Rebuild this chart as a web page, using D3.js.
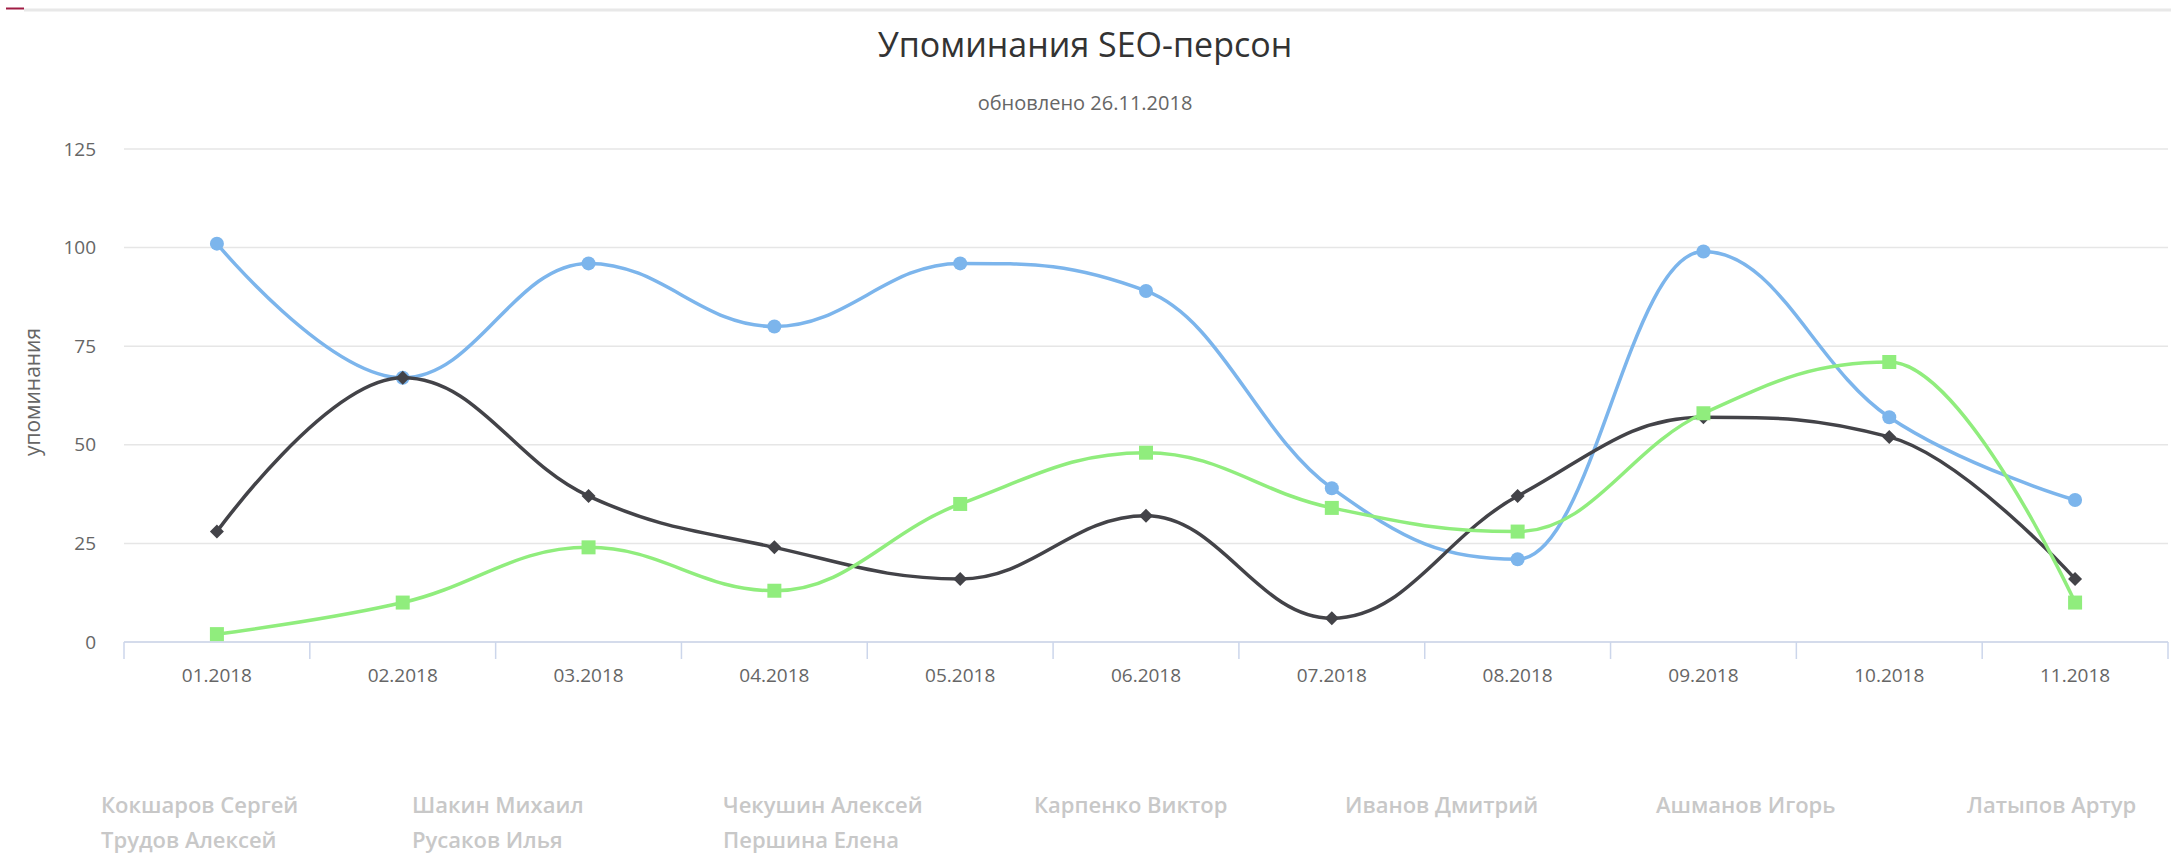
<!DOCTYPE html>
<html>
<head>
<meta charset="utf-8">
<script src="https://cdn.jsdelivr.net/npm/d3@7"></script>
<style>
  body { margin: 0; background: #fff; }
  text { font-family: "Open Sans", "Noto Sans", sans-serif; }
</style>
</head>
<body>
<div id="chart"></div>
<script>
var months = ["01.2018", "02.2018", "03.2018", "04.2018", "05.2018", "06.2018",
  "07.2018", "08.2018", "09.2018", "10.2018", "11.2018"];
var blueValues = [101, 67, 96, 80, 96, 89, 39, 21, 99, 57, 36];
var darkValues = [28, 67, 37, 24, 16, 32, 6, 37, 57, 52, 16];
var greenValues = [2, 10, 24, 13, 35, 48, 34, 28, 58, 71, 10];
var yTicks = [0, 25, 50, 75, 100, 125];
var legendNames = ["Кокшаров Сергей", "Шакин Михаил", "Чекушин Алексей", "Карпенко Виктор",
  "Иванов Дмитрий", "Ашманов Игорь", "Латыпов Артур", "Трудов Алексей", "Русаков Илья", "Першина Елена"];

var series = [
  { values: blueValues, color: "#7cb5ec", symbol: "circle" },
  { values: darkValues, color: "#434348", symbol: "diamond" },
  { values: greenValues, color: "#90ed7d", symbol: "square" }
];

// spline like the one highcharts draws (smoothing 1.5, flat at extremes)
function HighSpline(context) { this._context = context; }
HighSpline.prototype = {
  areaStart: function() {},
  areaEnd: function() {},
  lineStart: function() { this._x = []; this._y = []; },
  point: function(x, y) { this._x.push(+x); this._y.push(+y); },
  lineEnd: function() {
    var xs = this._x, ys = this._y, n = xs.length, ctx = this._context;
    var sm = 1.5, den = sm + 1;
    var lcx = [], lcy = [], rcx = [], rcy = [];
    for (var i = 0; i < n; i++) {
      lcx[i] = rcx[i] = xs[i];
      lcy[i] = rcy[i] = ys[i];
      if (i > 0 && i < n - 1) {
        var px = xs[i], py = ys[i], lx = xs[i - 1], ly = ys[i - 1], nx = xs[i + 1], ny = ys[i + 1];
        var a = (sm * px + lx) / den, b = (sm * py + ly) / den;
        var c = (sm * px + nx) / den, d = (sm * py + ny) / den;
        var corr = 0;
        if (c !== a) corr = ((d - b) * (c - px)) / (c - a) + py - d;
        b += corr; d += corr;
        if (b > ly && b > py) { b = Math.max(ly, py); d = 2 * py - b; }
        else if (b < ly && b < py) { b = Math.min(ly, py); d = 2 * py - b; }
        if (d > ny && d > py) { d = Math.max(ny, py); b = 2 * py - d; }
        else if (d < ny && d < py) { d = Math.min(ny, py); b = 2 * py - d; }
        lcx[i] = a; lcy[i] = b; rcx[i] = c; rcy[i] = d;
      }
    }
    ctx.moveTo(xs[0], ys[0]);
    for (var j = 1; j < n; j++) {
      ctx.bezierCurveTo(rcx[j - 1], rcy[j - 1], lcx[j], lcy[j], xs[j], ys[j]);
    }
  }
};
function curveHighSpline(context) { return new HighSpline(context); }

var w = 2171, h = 856;
var plotLeft = 124, plotRight = 2168, plotTop = 149, plotBottom = 642;

var svg = d3.select("#chart").append("svg")
  .attr("width", w)
  .attr("height", h);

// page strip on top
svg.append("line")
  .attr("x1", 24).attr("x2", w).attr("y1", 10).attr("y2", 10)
  .style("stroke", "#e8e8e8").style("stroke-width", 3);
svg.append("line")
  .attr("x1", 6).attr("x2", 24).attr("y1", 8.5).attr("y2", 8.5)
  .style("stroke", "#a01c44").style("stroke-width", 2);

svg.append("text")
  .attr("x", 1085).attr("y", 57)
  .attr("text-anchor", "middle")
  .style("font-size", "34px")
  .style("fill", "#333333")
  .text("Упоминания SEO-персон");

svg.append("text")
  .attr("x", 1085).attr("y", 110)
  .attr("text-anchor", "middle")
  .style("font-size", "20px")
  .style("fill", "#666666")
  .text("обновлено 26.11.2018");

var xscale = d3.scaleBand()
  .domain(months)
  .range([plotLeft, plotRight]);

var yscale = d3.scaleLinear()
  .domain([0, 125])
  .range([plotBottom, plotTop]);

// grid
svg.append("g")
  .selectAll("line")
  .data(yTicks)
  .enter().append("line")
  .attr("x1", plotLeft).attr("x2", plotRight)
  .attr("y1", function(d) { return yscale(d); })
  .attr("y2", function(d) { return yscale(d); })
  .style("stroke", "#e6e6e6")
  .style("stroke-width", 1.5);

var yaxis = d3.axisLeft(yscale)
  .tickValues(yTicks)
  .tickSize(0)
  .tickPadding(0);

var yg = svg.append("g")
  .attr("transform", "translate(96,0)")
  .call(yaxis);
yg.select(".domain").remove();
yg.selectAll("text")
  .style("font-size", "19px")
  .style("fill", "#666666")
  .style("font-family", "'Open Sans', sans-serif");

svg.append("text")
  .attr("transform", "translate(40,392) rotate(-90)")
  .attr("text-anchor", "middle")
  .style("font-size", "21px")
  .style("fill", "#666666")
  .text("упоминания");

// x axis with ticks between categories
var xg = svg.append("g")
  .attr("transform", "translate(0," + plotBottom + ")");
xg.append("line")
  .attr("x1", plotLeft).attr("x2", plotRight)
  .style("stroke", "#ccd6eb").style("stroke-width", 1.5);
xg.selectAll(".tick")
  .data(months.concat(["end"]))
  .enter().append("line")
  .attr("class", "tick")
  .attr("x1", function(d) { return d === "end" ? plotRight : xscale(d); })
  .attr("x2", function(d) { return d === "end" ? plotRight : xscale(d); })
  .attr("y1", 0).attr("y2", 17)
  .style("stroke", "#ccd6eb").style("stroke-width", 1.5);
xg.selectAll(".lab")
  .data(months)
  .enter().append("text")
  .attr("class", "lab")
  .attr("x", function(d) { return xscale(d) + xscale.bandwidth() / 2; })
  .attr("y", 40)
  .attr("text-anchor", "middle")
  .style("font-size", "19px")
  .style("fill", "#666666")
  .text(function(d) { return d; });

var line = d3.line()
  .x(function(d, i) { return xscale(months[i]) + xscale.bandwidth() / 2; })
  .y(function(d) { return yscale(d); })
  .curve(curveHighSpline);

var r = 7;
var shapes = {
  circle: d3.symbol().type(d3.symbolCircle).size(Math.PI * r * r),
  square: d3.symbol().type(d3.symbolSquare).size(4 * r * r),
  diamond: d3.symbol().type(d3.symbolSquare).size(2 * r * r)
};

series.forEach(function(s) {
  svg.append("path")
    .datum(s.values)
    .attr("d", line)
    .style("fill", "none")
    .style("stroke", s.color)
    .style("stroke-width", 3.5)
    .style("stroke-linejoin", "round");

  svg.append("g")
    .selectAll("path")
    .data(s.values)
    .enter().append("path")
    .attr("d", shapes[s.symbol])
    .attr("transform", function(d, i) {
      var t = "translate(" + (xscale(months[i]) + xscale.bandwidth() / 2) + "," + yscale(d) + ")";
      return s.symbol === "diamond" ? t + " rotate(45)" : t;
    })
    .style("fill", s.color);
});

// legend (all items greyed out)
svg.append("g")
  .selectAll("text")
  .data(legendNames)
  .enter().append("text")
  .attr("x", function(d, i) { return 101 + (i % 7) * 311; })
  .attr("y", function(d, i) { return i < 7 ? 813 : 848; })
  .style("font-size", "22px")
  .style("font-weight", "600")
  .style("fill", "#c8c8c8")
  .text(function(d) { return d; });
</script>
</body>
</html>
